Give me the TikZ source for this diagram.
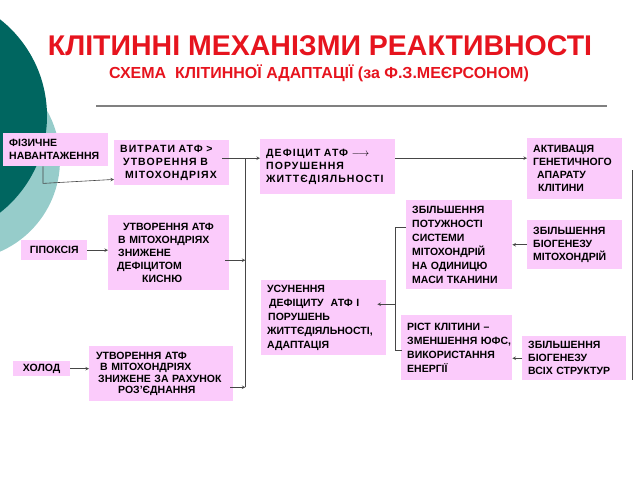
\documentclass[tikz,border=0pt]{standalone}
\usepackage{fontspec}
\setmainfont{Liberation Sans}
\usetikzlibrary{positioning,calc,arrows}
\definecolor{boxpink}{RGB}{251,203,251}
\definecolor{titlered}{RGB}{230,20,30}
\definecolor{darkteal}{RGB}{0,102,96}
\definecolor{lightteal}{RGB}{150,204,202}
\definecolor{linegray}{RGB}{70,70,70}
\newcommand{\boxfont}{\bfseries\fontsize{10.5}{13}\selectfont}

\begin{document}
\begin{tikzpicture}[x=1pt, y=-1pt, > = stealth,
box/.style={fill=boxpink, anchor=north west, inner xsep=6pt, inner ysep=0pt, align=left, font=\boxfont},
spaced/.style={font=\boxfont\addfontfeature{LetterSpace=10}},
wide/.style={font=\bfseries\fontsize{10.5}{14}\selectfont},
link/.style={draw=linegray, line width=0.6pt}]

\useasboundingbox (0,0) rectangle (640,480);

%teal circles at the left edge
\begin{scope}
\clip (0,0) rectangle (640,480);
\fill[lightteal] (-40,160) circle (100pt);
\fill[darkteal] (-76,116) circle (123pt);
\end{scope}

\node (title) [text=titlered, font=\bfseries\fontsize{28.5}{30}\selectfont] at (320,46) {КЛІТИННІ МЕХАНІЗМИ РЕАКТИВНОСТІ};
\node (subtitle) [text=titlered, font=\bfseries\fontsize{16}{18}\selectfont] at (319,73) {СХЕМА \ КЛІТИННОЇ АДАПТАЦІЇ (за Ф.З.МЕЄРСОНОМ)};
\draw [gray, line width=1.2pt] (96,106) -- (607,106);

%left column: causes
\node (fiz) [box, text width=93pt, minimum height=33pt] at (3,133) {ФІЗИЧНЕ\\НАВАНТАЖЕННЯ};
\node (gip) [box, align=center, text width=54pt, minimum height=20pt] at (21,240) {ГІПОКСІЯ};
\node (holod) [box, align=center, text width=45pt, minimum height=15pt] at (13,361) {ХОЛОД};

%second column
\node (vytr) [box, spaced, text width=103pt, minimum height=45pt] at (114,140)
	{ВИТРАТИ АТФ >\\\hspace*{3pt}УТВОРЕННЯ В\\\hspace*{5pt}МІТОХОНДРІЯХ};
\node (utv1) [box, text width=109pt, minimum height=75pt] at (108,215)
	{\hspace*{9pt}УТВОРЕННЯ АТФ\\\hspace*{4pt}В МІТОХОНДРІЯХ\\\hspace*{4pt}ЗНИЖЕНЕ\\\hspace*{3pt}ДЕФІЦИТОМ\\\hspace*{28pt}КИСНЮ};
\node (utv2) [box, font=\bfseries\fontsize{10.5}{11.5}\selectfont, text width=132pt, minimum height=55pt] at (89,346)
	{\hspace*{1pt}УТВОРЕННЯ АТФ\\\hspace*{5pt}В МІТОХОНДРІЯХ\\\hspace*{3pt}ЗНИЖЕНЕ ЗА РАХУНОК\\\hspace*{23pt}РОЗ’ЄДНАННЯ};

%third column
\node (defic) [box, spaced, text width=123pt, minimum height=55pt] at (260,139)
	{ДЕФІЦИТ АТФ $\longrightarrow$\\ПОРУШЕННЯ\\ЖИТТЄДІЯЛЬНОСТІ};
\node (usun) [box, wide, text width=113pt, minimum height=75pt] at (261,280)
	{УСУНЕННЯ\\\hspace*{2pt}ДЕФІЦИТУ \ АТФ І\\\hspace*{1pt}ПОРУШЕНЬ\\ЖИТТЄДІЯЛЬНОСТІ,\\АДАПТАЦІЯ};

%fourth column
\node (potuzh) [box, wide, text width=94pt, minimum height=89pt] at (406,200)
	{ЗБІЛЬШЕННЯ\\ПОТУЖНОСТІ\\СИСТЕМИ\\МІТОХОНДРІЙ\\НА ОДИНИЦЮ\\МАСИ ТКАНИНИ};
\node (rist) [box, wide, text width=99pt, minimum height=65pt] at (401,315)
	{\mbox{РІСТ КЛІТИНИ –}\\\mbox{ЗМЕНШЕННЯ ЮФС,}\\ВИКОРИСТАННЯ\\ЕНЕРГІЇ};

%right column
\node (aktyv) [box, text width=83pt, minimum height=61pt] at (527,138)
	{АКТИВАЦІЯ\\ГЕНЕТИЧНОГО\\\hspace*{4pt}АПАРАТУ\\\hspace*{5pt}КЛІТИНИ};
\node (biog1) [box, text width=83pt, minimum height=49pt] at (527,220)
	{ЗБІЛЬШЕННЯ\\БІОГЕНЕЗУ\\МІТОХОНДРІЙ};
\node (biog2) [box, text width=92pt, minimum height=44pt] at (522,336)
	{ЗБІЛЬШЕННЯ\\БІОГЕНЕЗУ\\ВСІХ СТРУКТУР};

%causes to second column
\draw [link, ->] ($(fiz.south west)+(40,0)$) -- ++(0,17) -- ($(vytr.south west)+(0,-6)$);
\draw [link, ->] (gip) -- (utv1.west |- gip);
\draw [link, ->] (holod) -- (utv2.west |- holod);

%bus on the left
\coordinate (bustop) at ($(vytr.east)+(16,-4.5)$);
\draw [link, ->] ($(vytr.east)+(-7,-4.5)$) -- (bustop -| defic.west);
\draw [link, ->] ($(utv1.east)+(-4,7.5)$) coordinate (u1) -- (u1 -| bustop);
\draw [link, ->] ($(utv2.east)+(-3,13.5)$) coordinate (u2) -- (u2 -| bustop);
\draw [link] (bustop) -- (u2 -| bustop);

\draw [link, ->] (defic.east |- bustop) -- (aktyv.west |- bustop);

%right side
\draw [link] ($(aktyv.east)+(10,1.5)$) -- ($(biog2.south east)+(6,0)$);
\draw [link, ->] (biog1.west) -- (biog1.west -| potuzh.east);
\draw [link, ->] (biog2.west) -- (biog2.west -| rist.east);

%bracket to the adaptation box
\draw [link] ($(potuzh.north west)+(0,27)$) -| ($(rist.west)+(-6,3)$) -- ($(rist.west)+(1,3)$);
\draw [link, ->] ($(usun.east)+(9,-13.5)$) -- ($(usun.east)+(-9,-13.5)$);

\end{tikzpicture}
\end{document}
